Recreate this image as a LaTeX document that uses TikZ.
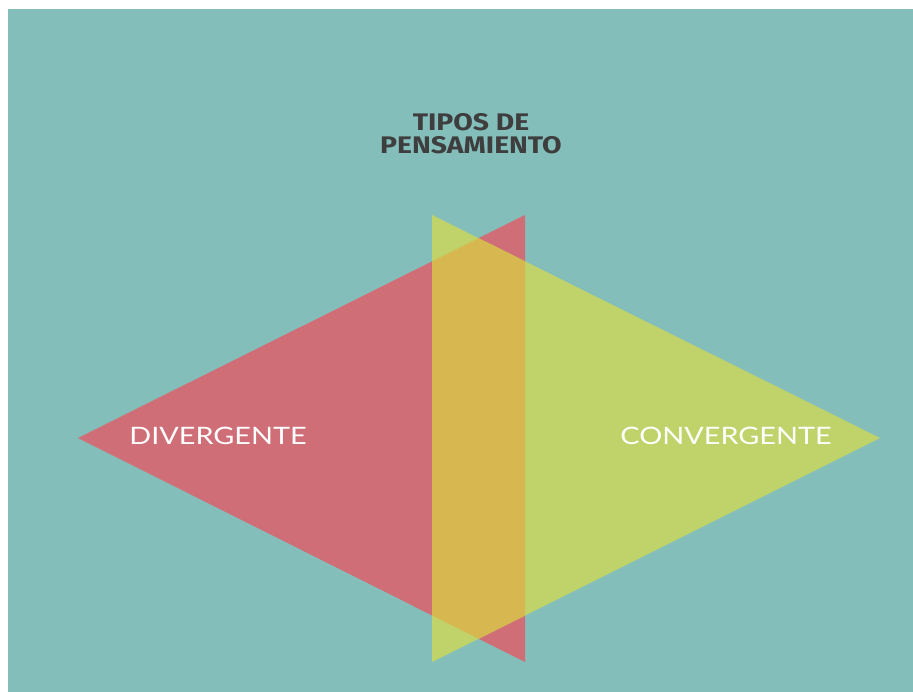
\documentclass[tikz,border=0pt]{standalone}
\usepackage{fontspec}
\setmainfont{Lato}
\newfontfamily\titlefont[FakeStretch=1.18]{Fira Sans}
\newfontfamily\labelfont[FakeStretch=1.2]{Lato}

\begin{document}
\begin{tikzpicture}[x=1pt,y=-1pt]

    % Colors
    \definecolor{teal}{RGB}{132,190,187}
    \definecolor{rosered}{RGB}{207,110,118}
    \definecolor{limegreen}{RGB}{192,211,106}
    \definecolor{mustard}{RGB}{214,183,80}
    \definecolor{titlegrey}{RGB}{62,62,62}

    \tikzset{
        title/.style={font=\titlefont\bfseries\fontsize{24}{23}\selectfont, text=titlegrey, align=center},
        label/.style={font=\labelfont\fontsize{24}{24}\selectfont, text=white}
    }

    % Canvas
    \useasboundingbox (0,0) rectangle (913,692);
    \fill[white] (0,0) rectangle (913,692);
    \fill[teal] (8,9) rectangle (913,692);

    % Red triangle (divergent)
    \fill[rosered] (78,438) -- (525,215) -- (525,662) -- cycle;

    % Green triangle (convergent)
    \fill[limegreen] (432,215) -- (880,438) -- (432,662) -- cycle;

    % Overlap
    \begin{scope}
        \clip (78,438) -- (525,215) -- (525,662) -- cycle;
        \fill[mustard] (432,215) -- (880,438) -- (432,662) -- cycle;
    \end{scope}

    % Texts
    \node[title] (title) at (471,134) {TIPOS DE\\PENSAMIENTO};
    \node[label] (divergente) at (218,436) {DIVERGENTE};
    \node[label] (convergente) at (726,436) {CONVERGENTE};

\end{tikzpicture}
\end{document}
